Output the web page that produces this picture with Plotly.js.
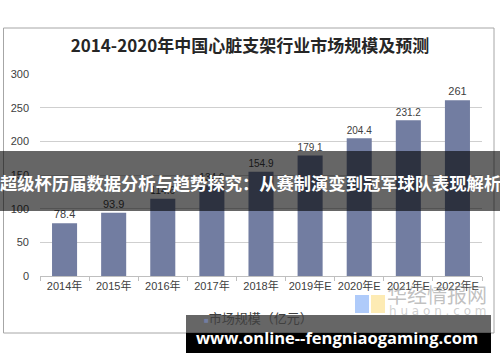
<!DOCTYPE html>
<html><head><meta charset="utf-8">
<script src="https://cdn.plot.ly/plotly-3.0.1.min.js"></script>
<style>html,body{margin:0;padding:0;background:#fff}#c{width:500px;height:362px}</style>
</head><body><div id="c"></div>
<script>
var categories = ["2014年","2015年","2016年","2017年","2018年","2019年E","2020年E","2021年E","2022年E"];
var values = [78.4, 93.9, 114.6, 134.6, 154.9, 179.1, 204.4, 231.2, 261];
var seriesName = "市场规模（亿元）";
var chartTitle = "2014-2020年中国心脏支架行业市场规模及预测";
var bannerText = "超级杯历届数据分析与趋势探究：从赛制演变到冠军球队表现解析";
var footerText = "www.online--fengniaogaming.com";

var L = 40, R = 482, T = 74, B = 276;
function px(x){ return (x - L) / (R - L); }
function py(y){ return (B - y) / (B - T); }

var barColor = "#727DA1";
var cjk = "Liberation Sans, Arial, Noto Sans CJK SC, sans-serif";

var trace = {
  type: "bar", x: categories, y: values, name: seriesName,
  marker: {color: barColor},
  text: values.map(String), textposition: "outside", cliponaxis: false,
  textfont: {size: 11, color: "#404040", family: cjk},
  hoverinfo: "x+y", showlegend: false
};

var shapes = [
  {type:"rect", xref:"paper", yref:"paper", x0:px(3.5), x1:px(494), y0:py(28), y1:py(333),
   line:{color:"#a6a6a6", width:1}, fillcolor:"rgba(0,0,0,0)", layer:"below"},
  {type:"rect", xref:"paper", yref:"paper", x0:px(355), x1:px(369), y0:py(313), y1:py(295),
   line:{width:0}, fillcolor:"rgba(110,160,245,0.55)", layer:"above"},
  {type:"rect", xref:"paper", yref:"paper", x0:px(371), x1:px(385), y0:py(313), y1:py(295),
   line:{width:0}, fillcolor:"rgba(252,222,130,0.6)", layer:"above"},
  {type:"rect", xref:"paper", yref:"paper", x0:px(0), x1:px(500), y0:py(211), y1:py(151),
   line:{width:0}, fillcolor:"rgba(0,0,0,0.6)", layer:"above"},
  {type:"rect", xref:"paper", yref:"paper", x0:px(186), x1:px(491), y0:py(333), y1:py(315),
   line:{width:0}, fillcolor:"rgba(0,0,0,0.6)", layer:"above"},
  {type:"rect", xref:"paper", yref:"paper", x0:px(186), x1:px(491), y0:py(353), y1:py(333),
   line:{width:0}, fillcolor:"#000", layer:"above"}
];

var annotations = [
  {xref:"paper", yref:"paper", x:px(202), y:py(318), xanchor:"left", yanchor:"middle", showarrow:false,
   text:"<span style='color:" + barColor + ";font-size:8px'>■</span>" + seriesName,
   font:{size:13, color:"#404040", family:cjk}},
  {xref:"paper", yref:"paper", x:px(437), y:py(294), xanchor:"center", yanchor:"middle", showarrow:false,
   text:"华经情报网", font:{size:20, color:"rgba(140,140,140,0.55)", family:"Noto Sans CJK SC"}},
  {xref:"paper", yref:"paper", x:px(437), y:py(311), xanchor:"center", yanchor:"middle", showarrow:false,
   text:"h u a o n . c o m", font:{size:12, color:"rgba(160,160,160,0.5)", family:"DejaVu Sans"}},
  {xref:"paper", yref:"paper", x:px(250), y:py(182), xanchor:"center", yanchor:"middle", showarrow:false,
   text:"<b>" + bannerText + "</b>", font:{size:17.3, color:"#ffffff", family:"Noto Sans CJK SC"}},
  {xref:"paper", yref:"paper", x:px(337), y:py(337), xanchor:"center", yanchor:"middle", showarrow:false,
   text:"<b>" + footerText + "</b>", font:{size:16.5, color:"#ffffff", family:"Open Sans, DejaVu Sans"}}
];

var layout = {
  width: 500, height: 362,
  margin: {l: L, r: 500 - R, t: T, b: 362 - B, pad: 0},
  paper_bgcolor: "#ffffff", plot_bgcolor: "#ffffff",
  title: {text: "<b>" + chartTitle + "</b>", x: 0.5, xanchor: "center", y: 1 - 46/362, yanchor: "middle",
          font: {size: 17, color: "#262626", family: "Noto Sans CJK SC"}},
  bargap: 0.49,
  xaxis: {type: "category", showgrid: false, showline: true, linecolor: "#bfbfbf", linewidth: 1,
          ticks: "outside", tickson: "boundaries", ticklen: 4, tickcolor: "#bfbfbf", tickangle: 0,
          tickfont: {size: 11, color: "#404040", family: cjk}, fixedrange: true},
  yaxis: {range: [0, 300], dtick: 50, showgrid: true, gridcolor: "#cfcfcf", gridwidth: 1,
          zeroline: false, showline: false, ticks: "", ticklabelstandoff: 10,
          tickfont: {size: 11, color: "#404040", family: cjk}, fixedrange: true},
  shapes: shapes, annotations: annotations, showlegend: false
};

Plotly.newPlot("c", [trace], layout, {displayModeBar: false, staticPlot: true});
</script></body></html>
